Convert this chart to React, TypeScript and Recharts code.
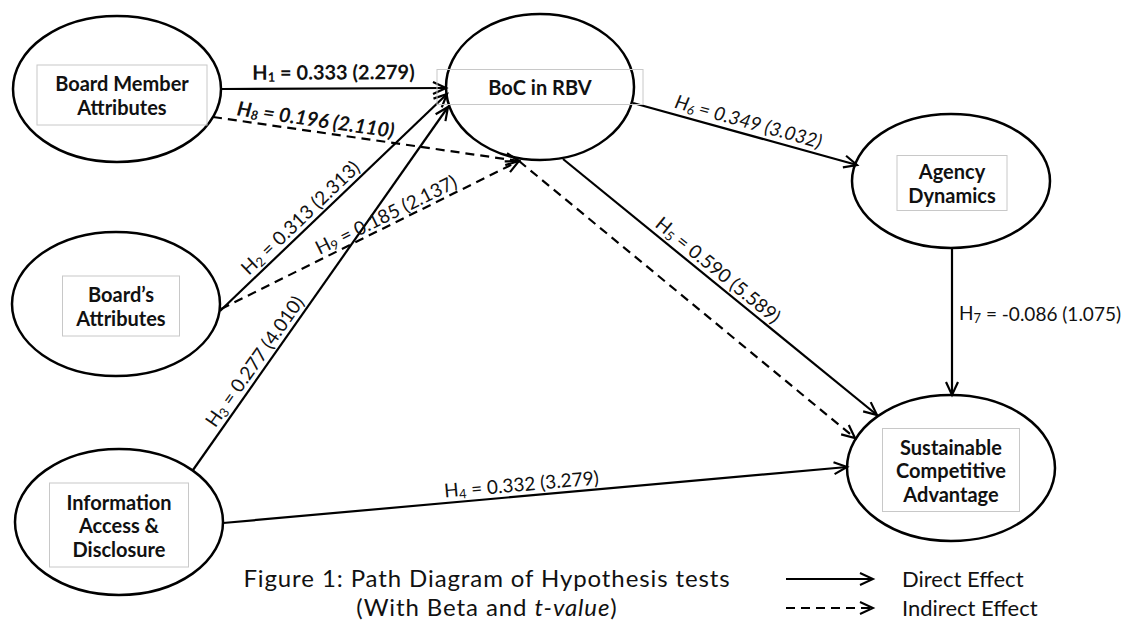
import React from 'react';
import { ScatterChart, Scatter, XAxis, YAxis, ReferenceLine } from 'recharts';

// constructs: centre of each oval
const constructs = [
  { id: 'BMA', x: 117, y: 89, lines: ['Board Member', 'Attributes'] },
  { id: 'BOC', x: 540, y: 87, lines: ['BoC in RBV'] },
  { id: 'AD', x: 951, y: 181, lines: ['Agency', 'Dynamics'] },
  { id: 'BA', x: 116, y: 304, lines: ['Board\u2019s', 'Attributes'] },
  { id: 'IAD', x: 119, y: 522, lines: ['Information', 'Access &', 'Disclosure'] },
  { id: 'SCA', x: 951, y: 468, lines: ['Sustainable', 'Competitive', 'Advantage'] },
];

// hypotheses H1..H9 : beta and t-value
const hypotheses = [1, 2, 3, 4, 5, 6, 7, 8, 9];
const betas = [0.333, 0.313, 0.277, 0.332, 0.59, 0.349, -0.086, 0.196, 0.185];
const tValues = [2.279, 2.313, 4.01, 3.279, 5.589, 3.032, 1.075, 2.11, 2.137];

// path end points (start -> arrow tip)
const directPaths = [
  { h: 1, x1: 221, y1: 89, x2: 446, y2: 88 },
  { h: 2, x1: 220, y1: 311, x2: 447, y2: 94 },
  { h: 3, x1: 193, y1: 470, x2: 448, y2: 107 },
  { h: 4, x1: 223, y1: 523, x2: 847, y2: 467 },
  { h: 5, x1: 563, y1: 159, x2: 877, y2: 415 },
  { h: 6, x1: 633, y1: 103, x2: 857, y2: 165 },
  { h: 7, x1: 952, y1: 248, x2: 952, y2: 395 },
];
const indirectPaths = [
  { h: 8, x1: 213, y1: 117, x2: 519, y2: 161 },
  { h: 9, x1: 221, y1: 309, x2: 519, y2: 161 },
  { h: 0, x1: 519, y1: 161, x2: 855, y2: 438 },
];

const legendItems = ['Direct Effect', 'Indirect Effect'];

const FONT = 'Lato, "Open Sans", sans-serif';

// oval radii and the little text frame inside each oval
const ovalStyle: Record<string, any> = {
  BMA: { rx: 104, ry: 73, dx: 5, dy: 6, bw: 170, bh: 60 },
  BOC: { rx: 94, ry: 73, dx: 0, dy: 0, bw: 206, bh: 35 },
  AD: { rx: 99, ry: 67, dx: 1, dy: 2, bw: 110, bh: 55 },
  BA: { rx: 104, ry: 72, dx: 5, dy: 2, bw: 117, bh: 60 },
  IAD: { rx: 104, ry: 73, dx: 0, dy: 3, bw: 139, bh: 84 },
  SCA: { rx: 104, ry: 73, dx: 0, dy: 2, bw: 137, bh: 83 },
};

// where each label sits along its path (fraction), how far above it, text style
const labelStyle: Record<number, any> = {
  1: { t: 0.5, off: 17, weight: 700, size: 20 },
  2: { t: 0.39, off: 13 },
  3: { t: 0.28, off: 13 },
  4: { t: 0.48, off: 13 },
  5: { t: 0.47, off: 13 },
  6: { t: 0.5, off: 14, italic: true },
  7: { t: 0.44, off: 0, flat: true, dx: 7 },
  8: { t: 0.33, off: 13, weight: 700, italic: true, size: 20 },
  9: { t: 0.57, off: 12 },
};

const allPaths = [
  ...directPaths.map((p) => ({ ...p, dashed: false })),
  ...indirectPaths.map((p) => ({ ...p, dashed: true })),
];

const labelPoints = allPaths
  .filter((p) => p.h > 0)
  .map((p) => {
    const s = labelStyle[p.h];
    const i = hypotheses.indexOf(p.h);
    return {
      h: p.h,
      x: p.x1 + s.t * (p.x2 - p.x1),
      y: p.y1 + s.t * (p.y2 - p.y1),
      angle: s.flat ? 0 : (Math.atan2(p.y2 - p.y1, p.x2 - p.x1) * 180) / Math.PI,
      beta: betas[i].toFixed(3),
      tv: tValues[i].toFixed(3),
    };
  });

const Arrow = (props: any) => {
  const { x1, y1, x2, y2, dashed } = props;
  const dx = x2 - x1;
  const dy = y2 - y1;
  const len = Math.hypot(dx, dy);
  const ux = dx / len;
  const uy = dy / len;
  const bx = x2 - ux * 13;
  const by = y2 - uy * 13;
  const a = `${bx - uy * 6},${by + ux * 6}`;
  const b = `${bx + uy * 6},${by - ux * 6}`;
  return (
    <g>
      <line x1={x1} y1={y1} x2={x2} y2={y2} stroke="#000" strokeWidth={2.2} strokeDasharray={dashed ? '9 6' : undefined} />
      <polyline points={`${a} ${x2},${y2} ${b}`} fill="none" stroke="#000" strokeWidth={2.2} />
    </g>
  );
};

const Oval = (props: any) => {
  const { cx, cy, payload } = props;
  const o = ovalStyle[payload.id];
  const bx = cx + o.dx;
  const by = cy + o.dy;
  const n = payload.lines.length;
  return (
    <g>
      <ellipse cx={cx} cy={cy} rx={o.rx} ry={o.ry} fill="none" stroke="#000" strokeWidth={2.5} />
      <rect x={bx - o.bw / 2} y={by - o.bh / 2} width={o.bw} height={o.bh} fill="none" stroke="#c8c8c8" strokeWidth={1} />
      <text textAnchor="middle" dominantBaseline="central" fontFamily={FONT} fontWeight={700} fontSize={20} fill="#111">
        {payload.lines.map((l: string, i: number) => (
          <tspan key={i} x={bx} y={by + (i - (n - 1) / 2) * 23.5}>
            {l}
          </tspan>
        ))}
      </text>
    </g>
  );
};

const PathLabel = (props: any) => {
  const { cx, cy, payload } = props;
  const s = labelStyle[payload.h];
  const rad = (payload.angle * Math.PI) / 180;
  const x = cx + Math.sin(rad) * s.off + (s.dx || 0);
  const y = cy - Math.cos(rad) * s.off;
  return (
    <text
      x={x}
      y={y}
      transform={`rotate(${payload.angle} ${x} ${y})`}
      textAnchor={s.flat ? 'start' : 'middle'}
      dominantBaseline="central"
      fontFamily={FONT}
      fontSize={s.size || 19}
      fontWeight={s.weight || 400}
      fontStyle={s.italic ? 'italic' : 'normal'}
      fill="#111"
    >
      H
      <tspan dy={5} fontSize={13}>
        {payload.h}
      </tspan>
      <tspan dy={-5}>{` = ${payload.beta} (${payload.tv})`}</tspan>
    </text>
  );
};

export default function App() {
  return (
    <div style={{ position: 'relative', width: 1126, height: 621, background: '#fff', overflow: 'hidden' }}>
      <style>{'body{margin:0}'}</style>
      <ScatterChart width={1126} height={621} margin={{ top: 0, right: 0, bottom: 0, left: 0 }}>
        <XAxis type="number" dataKey="x" domain={[0, 1126]} hide />
        <YAxis type="number" dataKey="y" domain={[0, 621]} reversed hide />
        {allPaths.map((p, i) => (
          <ReferenceLine
            key={i}
            segment={[
              { x: p.x1, y: p.y1 },
              { x: p.x2, y: p.y2 },
            ]}
            shape={(sp: any) => <Arrow x1={sp.x1} y1={sp.y1} x2={sp.x2} y2={sp.y2} dashed={p.dashed} />}
          />
        ))}
        <Scatter data={constructs} shape={Oval} isAnimationActive={false} />
        <Scatter data={labelPoints} shape={PathLabel} isAnimationActive={false} />
      </ScatterChart>

      <div
        style={{
          position: 'absolute',
          left: 0,
          top: 563,
          width: 974,
          textAlign: 'center',
          fontFamily: FONT,
          fontSize: 24,
          lineHeight: '29px',
          letterSpacing: 0.9,
          color: '#111',
        }}
      >
        <div>Figure 1: Path Diagram of Hypothesis tests</div>
        <div>
          (With Beta and <i>t-value</i>)
        </div>
      </div>

      <div style={{ position: 'absolute', left: 786, top: 564, fontFamily: FONT, fontSize: 22, color: '#111' }}>
        {legendItems.map((name, i) => (
          <div key={name} style={{ display: 'flex', alignItems: 'center', height: 29, lineHeight: '29px' }}>
            <svg width={90} height={14} style={{ marginRight: 26 }}>
              <line x1={0} y1={7} x2={87} y2={7} stroke="#000" strokeWidth={2} strokeDasharray={i ? '9 6' : undefined} />
              <polyline points="74,1 87,7 74,13" fill="none" stroke="#000" strokeWidth={2} />
            </svg>
            <span>{name}</span>
          </div>
        ))}
      </div>
    </div>
  );
}
